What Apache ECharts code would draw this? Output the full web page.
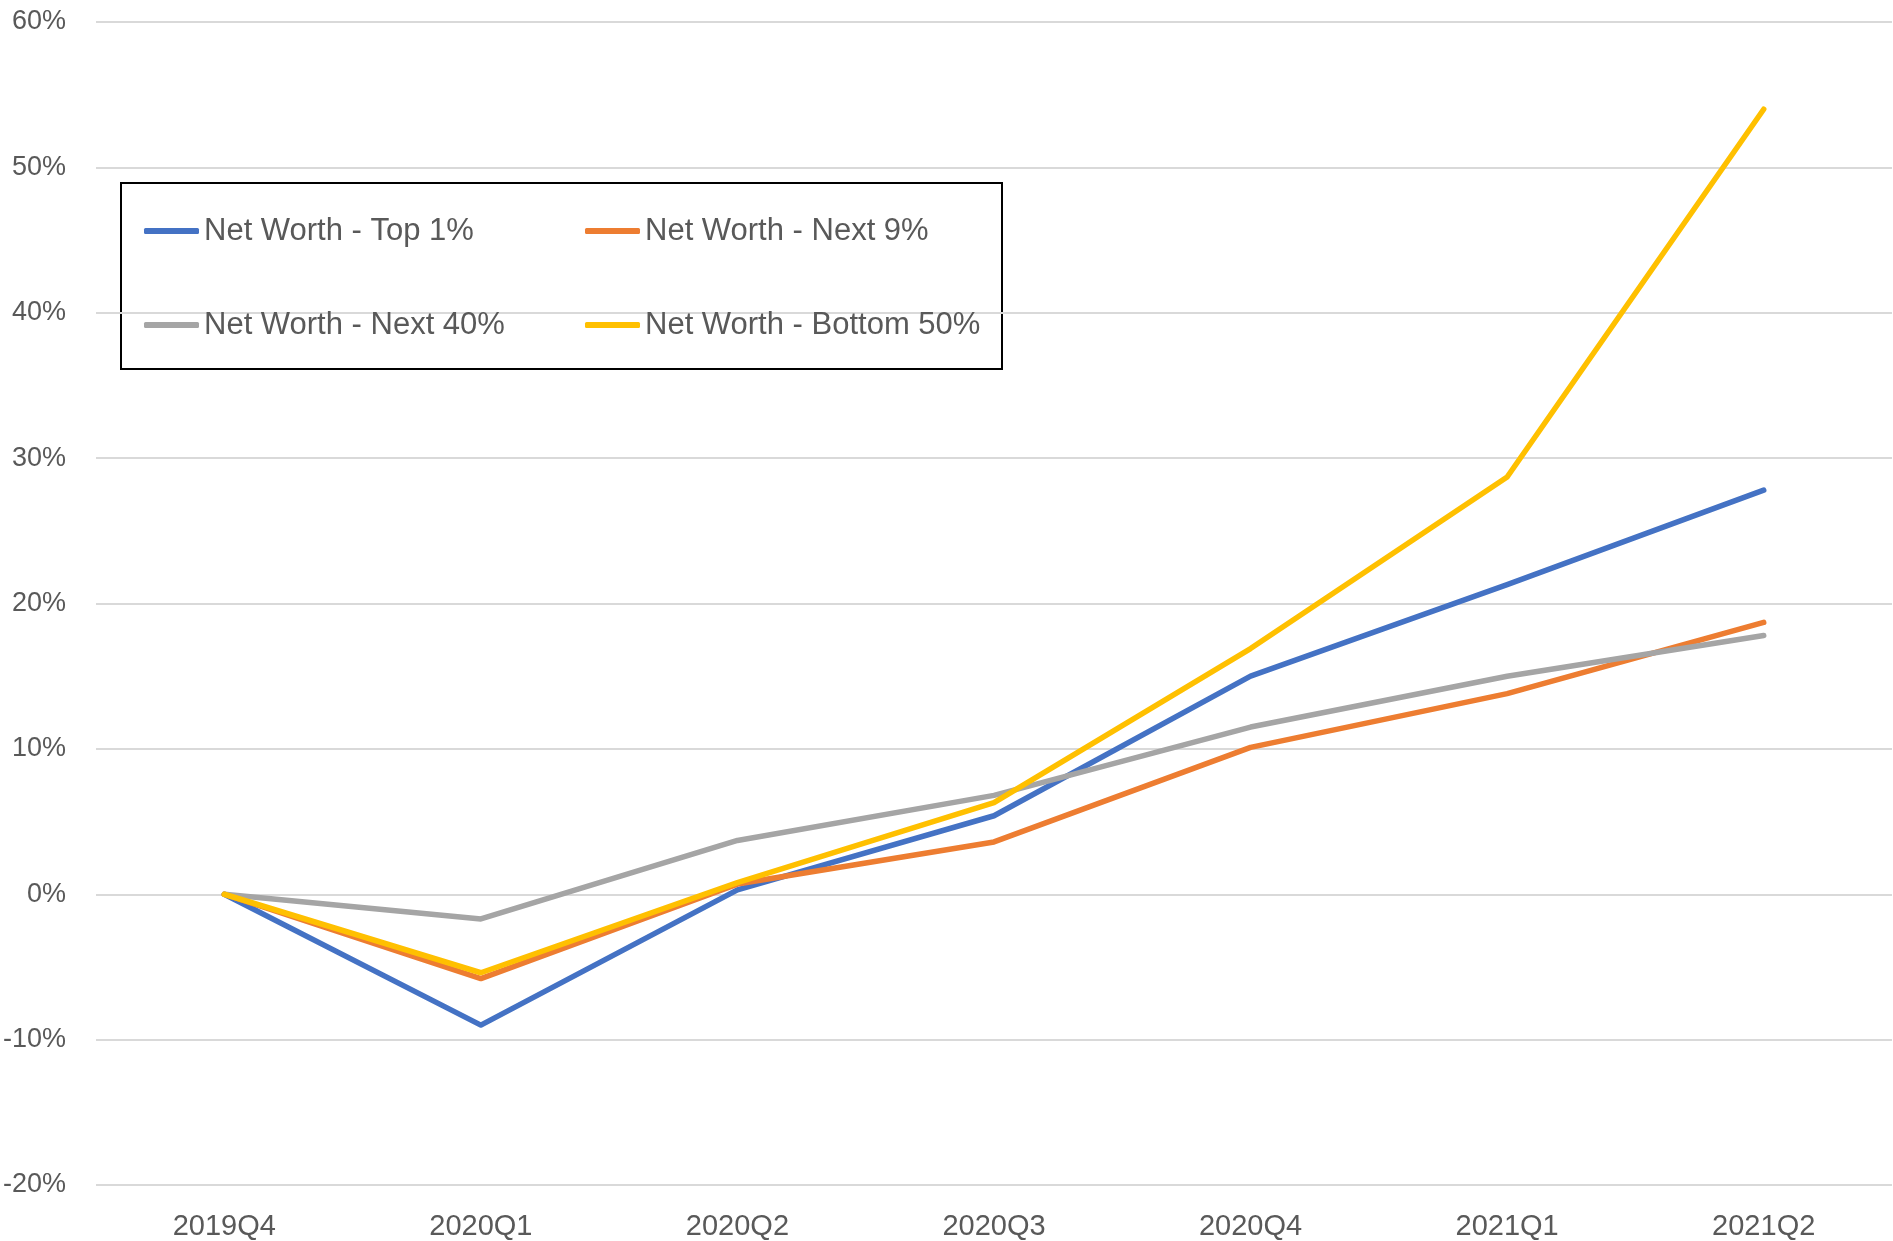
<!DOCTYPE html>
<html>
<head>
<meta charset="utf-8">
<script src="https://cdn.jsdelivr.net/npm/echarts@6/dist/echarts.min.js"></script>
<style>
  html, body { margin: 0; padding: 0; background: #fff; }
  #chart { width: 1893px; height: 1241px; }
</style>
</head>
<body>
<div id="chart"></div>
<script>
// quarters on the x axis
const quarters = ['2019Q4', '2020Q1', '2020Q2', '2020Q3', '2020Q4', '2021Q1', '2021Q2'];

// cumulative change in net worth (%)
const top1 = [0, -9.0, 0.3, 5.4, 15.0, 21.3, 27.8];
const next9 = [0, -5.8, 0.7, 3.6, 10.1, 13.8, 18.7];
const next40 = [0, -1.7, 3.7, 6.8, 11.5, 15.0, 17.8];
const bottom50 = [0, -5.4, 0.8, 6.3, 16.9, 28.7, 54.0];

const FONT = "'Liberation Sans Narrow', 'Liberation Sans', sans-serif";
const TEXT_COLOR = '#595959';

const chart = echarts.init(document.getElementById('chart'));

const lineSeries = (name, data, color) => ({
  name: name,
  type: 'line',
  data: data,
  symbol: 'none',
  lineStyle: { width: 5.5, color: color, cap: 'round', join: 'round' },
  itemStyle: { color: color },
  emphasis: { disabled: true },
  animation: false,
});

const legendText = { fontSize: 31, color: TEXT_COLOR, fontFamily: FONT, lineHeight: 36 };

const option = {
  backgroundColor: '#fff',
  grid: { left: 96, right: 1, top: 22, bottom: 56, containLabel: false, outerBoundsMode: 'none' },
  xAxis: {
    type: 'category',
    data: quarters,
    boundaryGap: true,
    axisLine: { show: false },
    axisTick: { show: false },
    axisLabel: { fontSize: 29, color: TEXT_COLOR, fontFamily: FONT, margin: 27 },
  },
  yAxis: {
    type: 'value',
    min: -20,
    max: 60,
    interval: 10,
    axisLine: { show: false },
    axisTick: { show: false },
    axisLabel: { formatter: '{value}%', fontSize: 27, color: TEXT_COLOR, fontFamily: FONT, margin: 30 },
    splitLine: { lineStyle: { color: '#d9d9d9', width: 2 } },
  },
  legend: [
    {
      orient: 'vertical',
      left: 139,
      top: 208,
      itemWidth: 55,
      itemHeight: 6,
      itemGap: 58,
      icon: 'roundRect',
      textStyle: legendText,
      data: ['Net Worth - Top 1%', 'Net Worth - Next 40%'],
    },
    {
      orient: 'vertical',
      left: 580,
      top: 208,
      itemWidth: 55,
      itemHeight: 6,
      itemGap: 58,
      icon: 'roundRect',
      textStyle: legendText,
      data: ['Net Worth - Next 9%', 'Net Worth - Bottom 50%'],
    },
  ],
  graphic: [
    {
      type: 'rect',
      left: 120,
      top: 182,
      shape: { width: 881, height: 186 },
      style: { fill: 'rgba(0,0,0,0)', stroke: '#000', lineWidth: 2 },
      z: 0,
    },
  ],
  series: [
    lineSeries('Net Worth - Top 1%', top1, '#4472C4'),
    lineSeries('Net Worth - Next 9%', next9, '#ED7D31'),
    lineSeries('Net Worth - Next 40%', next40, '#A5A5A5'),
    lineSeries('Net Worth - Bottom 50%', bottom50, '#FFC000'),
  ],
};

chart.setOption(option);
</script>
</body>
</html>
